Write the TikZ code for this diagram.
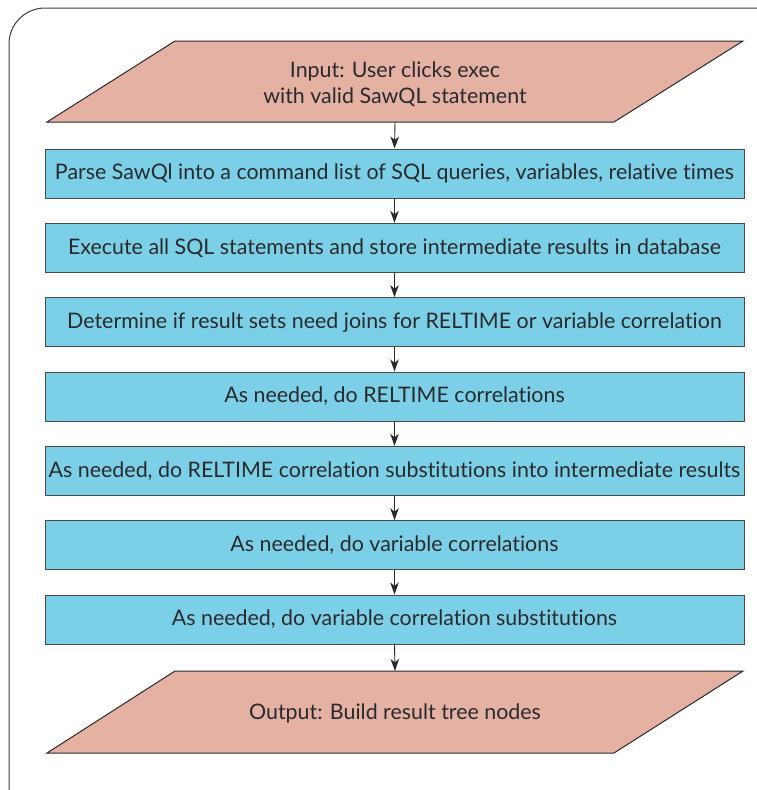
\documentclass[tikz,border=0pt]{standalone}
\usepackage{fontspec}
\setmainfont{Lato}[RawFeature={-liga;-dlig}]
\usetikzlibrary{arrows.meta}
\definecolor{salmon}{HTML}{E5B1A3}
\definecolor{skyb}{HTML}{7BD0E8}
\definecolor{ink}{HTML}{2A2A2C}
\tikzset{
  stepbox/.style={draw=ink!85, line width=1pt, fill=skyb, minimum width=699pt, minimum height=49pt, inner sep=0pt, text=ink, font=\fontsize{21.4}{26}\selectfont},
  iotext/.style={minimum width=400pt, inner sep=0pt, text=ink, align=center, font=\fontsize{21.4}{26}\selectfont},
  para/.style={draw=ink, line width=1pt, fill=salmon, line join=miter},
  conn/.style={draw=ink, line width=0.9pt, -{Stealth[length=12pt,width=8.5pt,inset=3.5pt]}}
}
\begin{document}
\begin{tikzpicture}[x=1pt,y=-1pt]
\clip (0,0) rectangle (757,790);
\fill[white] (0,0) rectangle (757,790);
% frame
\draw[ink!90, line width=1pt, rounded corners=36pt] (9,800) -- (9,8) -- (770,8);
% input parallelogram
\path[para] (175,41) -- (743,41) -- (614,122) -- (47,122) -- cycle;
\coordinate (inb) at (395,122);
\node[iotext] (in) at (395,84.5) {Input: User clicks exec\\with valid SawQL statement};
% steps
\node[stepbox] (s1) at (394.5,173.5) {Parse SawQl into a command list of SQL queries, variables, relative times};
\node[stepbox] (s2) at (394.5,247.8) {Execute all SQL statements and store intermediate results in database};
\node[stepbox] (s3) at (394.5,322.2) {Determine if result sets need joins for RELTIME or variable correlation};
\node[stepbox] (s4) at (394.5,396.5) {As needed, do RELTIME correlations};
\node[stepbox] (s5) at (394.5,470.8) {As needed, do RELTIME correlation substitutions into intermediate results};
\node[stepbox] (s6) at (394.5,545.2) {As needed, do variable correlations};
\node[stepbox] (s7) at (394.5,619.5) {As needed, do variable correlation substitutions};
% output parallelogram
\path[para] (175,671) -- (743,671) -- (614,753) -- (47,753) -- cycle;
\coordinate (outt) at (395,671);
\node[iotext] (out) at (395,713) {Output: Build result tree nodes};
% connectors
\draw[conn] (inb) -- (s1.north);
\draw[conn] (s1) -- (s2);
\draw[conn] (s2) -- (s3);
\draw[conn] (s3) -- (s4);
\draw[conn] (s4) -- (s5);
\draw[conn] (s5) -- (s6);
\draw[conn] (s6) -- (s7);
\draw[conn] (s7.south) -- (outt);
\end{tikzpicture}
\end{document}
